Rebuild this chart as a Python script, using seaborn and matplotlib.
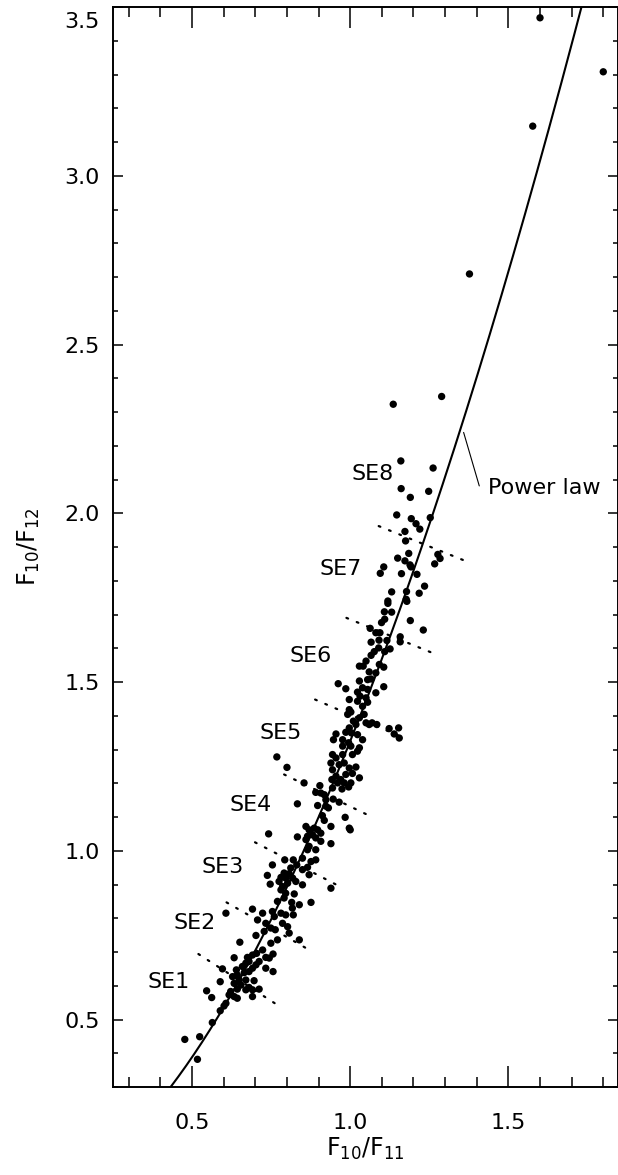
import numpy as np
import pandas as pd
import matplotlib
matplotlib.use("Agg")
import matplotlib.pyplot as plt
import matplotlib.transforms as mtransforms
import seaborn as sns

# ---------------- data ----------------
x_ratio_1011 = [
    1.600, 1.800, 1.577, 1.377, 1.289, 1.136,
    1.160, 1.262, 1.161, 1.248, 1.190, 1.147, 1.253, 1.193, 1.208, 1.220,
    1.173, 1.175, 1.277, 1.284, 1.267, 1.185, 1.150, 1.173, 1.189, 1.192,
    1.211, 1.162, 1.106, 1.095, 1.235, 1.218, 1.178, 1.131, 1.177, 1.179,
    1.119, 1.119, 1.108, 1.131, 1.190, 1.109, 1.099, 1.231, 1.063, 1.081,
    1.094, 1.158, 1.158, 1.116, 1.091, 1.066, 1.126, 1.090, 1.076, 1.109,
    1.066, 1.050, 1.029, 1.041, 1.092, 1.106, 1.060, 1.081, 1.029, 1.055,
    1.066, 0.962, 0.986, 1.106, 1.039, 1.055, 1.081, 1.023, 1.031, 1.050,
    0.997, 1.023, 1.055, 1.039, 0.997, 0.992, 1.002, 1.044, 1.029, 1.010,
    1.018, 1.050, 1.069, 1.084, 1.060, 0.997, 0.986, 1.004, 1.023, 0.955,
    0.947, 0.976, 0.995, 1.039, 0.976, 1.002, 1.029, 1.123, 1.153, 1.139,
    1.155,
    0.768, 0.800, 0.854, 0.944, 0.955, 0.976, 1.007, 1.023, 0.939, 0.965,
    0.981, 0.997, 1.018, 0.944, 0.955, 0.970, 0.986, 1.007, 1.029, 0.942,
    0.960, 0.981, 1.002, 0.944, 0.974, 0.995, 0.904, 0.891, 0.907, 0.918,
    0.946, 0.965, 0.923, 0.833, 0.897, 0.923, 0.931, 0.984, 0.997, 1.000,
    0.912, 0.918, 0.939, 0.860, 0.870, 0.886, 0.897, 0.907, 0.881, 0.865,
    0.860, 0.891, 0.907, 0.939, 0.833, 0.742, 0.870, 0.865, 0.891, 0.849,
    0.876, 0.891, 0.793, 0.820, 0.831, 0.754, 0.812, 0.849, 0.865, 0.791,
    0.807, 0.738, 0.781, 0.796, 0.818, 0.870, 0.828, 0.775, 0.802, 0.849,
    0.747, 0.786, 0.781, 0.796, 0.823, 0.939, 0.791, 0.815, 0.770, 0.876,
    0.839, 0.817, 0.754, 0.781, 0.796, 0.820, 0.691, 0.723, 0.607, 0.760,
    0.707, 0.733, 0.786, 0.802, 0.749, 0.763, 0.807, 0.728, 0.702, 0.770,
    0.839, 0.749, 0.651, 0.723, 0.704, 0.691, 0.675, 0.756, 0.633, 0.733,
    0.744, 0.712, 0.680, 0.670, 0.702, 0.691, 0.659, 0.640, 0.596, 0.733,
    0.756, 0.680, 0.665, 0.643, 0.628, 0.649, 0.670, 0.696, 0.589, 0.633,
    0.654, 0.680, 0.691, 0.712, 0.670, 0.643, 0.622, 0.546, 0.617, 0.633,
    0.643, 0.691, 0.562, 0.607, 0.601, 0.589, 0.564, 0.524, 0.477, 0.517,
]
y_ratio_1012 = [
    3.468, 3.308, 3.147, 2.709, 2.346, 2.323,
    2.155, 2.134, 2.073, 2.065, 2.047, 1.995, 1.987, 1.984, 1.969, 1.953,
    1.946, 1.918, 1.878, 1.866, 1.850, 1.881, 1.867, 1.859, 1.847, 1.841,
    1.819, 1.821, 1.841, 1.822, 1.784, 1.763, 1.768, 1.767, 1.745, 1.739,
    1.740, 1.733, 1.708, 1.707, 1.682, 1.686, 1.676, 1.654, 1.659, 1.646,
    1.646, 1.634, 1.619, 1.623, 1.624, 1.618, 1.598, 1.601, 1.590, 1.590,
    1.579, 1.562, 1.547, 1.547, 1.552, 1.544, 1.530, 1.527, 1.503, 1.507,
    1.509, 1.495, 1.480, 1.486, 1.483, 1.478, 1.468, 1.470, 1.458, 1.453,
    1.448, 1.443, 1.440, 1.428, 1.418, 1.404, 1.411, 1.404, 1.394, 1.384,
    1.374, 1.379, 1.379, 1.374, 1.374, 1.364, 1.351, 1.349, 1.344, 1.346,
    1.329, 1.329, 1.320, 1.329, 1.310, 1.310, 1.305, 1.362, 1.364, 1.346,
    1.334,
    1.278, 1.247, 1.201, 1.285, 1.275, 1.285, 1.285, 1.295, 1.260, 1.255,
    1.260, 1.245, 1.248, 1.240, 1.221, 1.211, 1.226, 1.229, 1.216, 1.211,
    1.201, 1.201, 1.201, 1.186, 1.183, 1.189, 1.193, 1.173, 1.171, 1.166,
    1.153, 1.144, 1.151, 1.139, 1.134, 1.132, 1.127, 1.099, 1.067, 1.062,
    1.104, 1.090, 1.072, 1.072, 1.062, 1.067, 1.062, 1.052, 1.047, 1.043,
    1.033, 1.038, 1.028, 1.021, 1.041, 1.050, 1.013, 1.003, 1.003, 0.978,
    0.968, 0.973, 0.973, 0.973, 0.958, 0.958, 0.949, 0.944, 0.951, 0.934,
    0.932, 0.927, 0.921, 0.919, 0.919, 0.929, 0.909, 0.909, 0.904, 0.899,
    0.901, 0.894, 0.884, 0.874, 0.872, 0.889, 0.860, 0.847, 0.850, 0.847,
    0.840, 0.830, 0.820, 0.815, 0.810, 0.810, 0.827, 0.815, 0.815, 0.805,
    0.795, 0.785, 0.785, 0.775, 0.771, 0.766, 0.756, 0.761, 0.749, 0.736,
    0.736, 0.726, 0.729, 0.706, 0.696, 0.691, 0.684, 0.694, 0.683, 0.684,
    0.682, 0.672, 0.672, 0.667, 0.662, 0.652, 0.657, 0.647, 0.650, 0.652,
    0.642, 0.642, 0.639, 0.632, 0.627, 0.617, 0.617, 0.615, 0.612, 0.607,
    0.602, 0.595, 0.588, 0.590, 0.588, 0.590, 0.583, 0.585, 0.573, 0.568,
    0.563, 0.568, 0.565, 0.548, 0.540, 0.526, 0.491, 0.449, 0.441, 0.382,
]

# power-law reference curve  F10/F12 = A * (F10/F11)^B
POWER_A = 1.325
POWER_B = 1.77

# class labels and their positions
se_labels = ["SE1", "SE2", "SE3", "SE4", "SE5", "SE6", "SE7", "SE8"]
se_label_x = [0.427, 0.507, 0.596, 0.686, 0.780, 0.874, 0.970, 1.072]
se_label_y = [0.612, 0.785, 0.953, 1.137, 1.349, 1.577, 1.834, 2.116]

# dotted boundaries between classes (start x, start y, end x, end y)
bound_x0 = [0.520, 0.609, 0.699, 0.791, 0.889, 0.988, 1.090]
bound_y0 = [0.694, 0.847, 1.025, 1.226, 1.448, 1.690, 1.962]
bound_x1 = [0.770, 0.865, 0.963, 1.060, 1.163, 1.263, 1.366]
bound_y1 = [0.543, 0.709, 0.896, 1.104, 1.337, 1.585, 1.858]

x_ticks = [0.5, 1.0, 1.5]
y_ticks = [0.5, 1.0, 1.5, 2.0, 2.5, 3.0, 3.5]

# ---------------- style ----------------
sns.set_theme(style="ticks")
FONT = ["DejaVu Sans"]
plt.rcParams["font.family"] = FONT
plt.rcParams["mathtext.default"] = "regular"
plt.rcParams["axes.linewidth"] = 1.4
for key in ["text.color", "axes.labelcolor", "xtick.color", "ytick.color",
            "axes.edgecolor", "xtick.labelcolor", "ytick.labelcolor"]:
    plt.rcParams[key] = "black"
FS = 16
WEIGHT = "normal"

fig = plt.figure(figsize=(6.18, 11.75), dpi=100)
ax = fig.add_axes([113 / 618, 88 / 1175, (617.5 - 113) / 618, (1087 - 7) / 1175])

df = pd.DataFrame({"x": x_ratio_1011, "y": y_ratio_1012})
sns.scatterplot(data=df, x="x", y="y", ax=ax, color="black", s=28,
                linewidth=0, edgecolor="none", zorder=3)

xc = np.linspace(0.25, 1.9, 400)
curve = pd.DataFrame({"x": xc, "y": POWER_A * xc ** POWER_B})
sns.lineplot(data=curve, x="x", y="y", ax=ax, color="black", lw=1.5,
             sort=False, zorder=2)

for xa, ya, xb, yb in zip(bound_x0, bound_y0, bound_x1, bound_y1):
    ax.plot([xa, xb], [ya, yb], color="black", lw=1.6,
            linestyle=(0, (0.8, 4.2)), dash_capstyle="round", zorder=2)

for lab, lx, ly in zip(se_labels, se_label_x, se_label_y):
    ax.text(lx, ly, lab, ha="center", va="center", fontsize=FS,
            fontweight=WEIGHT, color="black")

# power-law annotation
ax.plot([1.3585, 1.408], [2.2395, 2.081], color="black", lw=0.8)
ax.text(1.437, 2.076, "Power law", ha="left", va="center", fontsize=FS,
        fontweight=WEIGHT, color="black")

ax.set_xlim(0.25, 1.845)
ax.set_ylim(0.3, 3.5)
ax.set_xticks(x_ticks)
ax.set_xticklabels([f"{t:.1f}" for t in x_ticks])
ax.set_yticks(y_ticks)
ax.set_yticklabels([f"{t:.1f}" for t in y_ticks])
ax.set_xticks(np.arange(0.3, 1.85, 0.1), minor=True)
ax.set_yticks(np.arange(0.3, 3.51, 0.1), minor=True)

ax.tick_params(axis="x", which="major", direction="in", length=15, width=1.1,
               top=True, bottom=True, labelsize=FS, pad=18.5, colors="black")
ax.tick_params(axis="x", which="minor", direction="in", length=7.5, width=1.1,
               top=True, bottom=True, colors="black")
ax.tick_params(axis="y", which="major", direction="in", length=7.5, width=1.1,
               left=True, right=True, labelsize=FS, pad=9.5, colors="black")
ax.tick_params(axis="y", which="minor", direction="in", length=3.6, width=1.1,
               left=True, right=True, colors="black")
for lab in ax.get_xticklabels() + ax.get_yticklabels():
    lab.set_fontweight(WEIGHT)
    lab.set_color("black")

# the top y label sits a little below its tick, as in the original
top_lab = ax.get_yticklabels()[-1]
top_lab.set_transform(top_lab.get_transform() +
                      mtransforms.ScaledTranslation(0, -0.13, fig.dpi_scale_trans))

ax.set_xlabel("F$_{10}$/F$_{11}$", fontsize=FS + 1, labelpad=2,
              fontweight=WEIGHT, color="black")
ax.set_ylabel("F$_{10}$/F$_{12}$", fontsize=FS + 1, labelpad=16,
              fontweight=WEIGHT, color="black")

for sp in ax.spines.values():
    sp.set_visible(True)
    sp.set_color("black")
    sp.set_linewidth(1.4)

fig.savefig("out.png", dpi=100, facecolor="white")
